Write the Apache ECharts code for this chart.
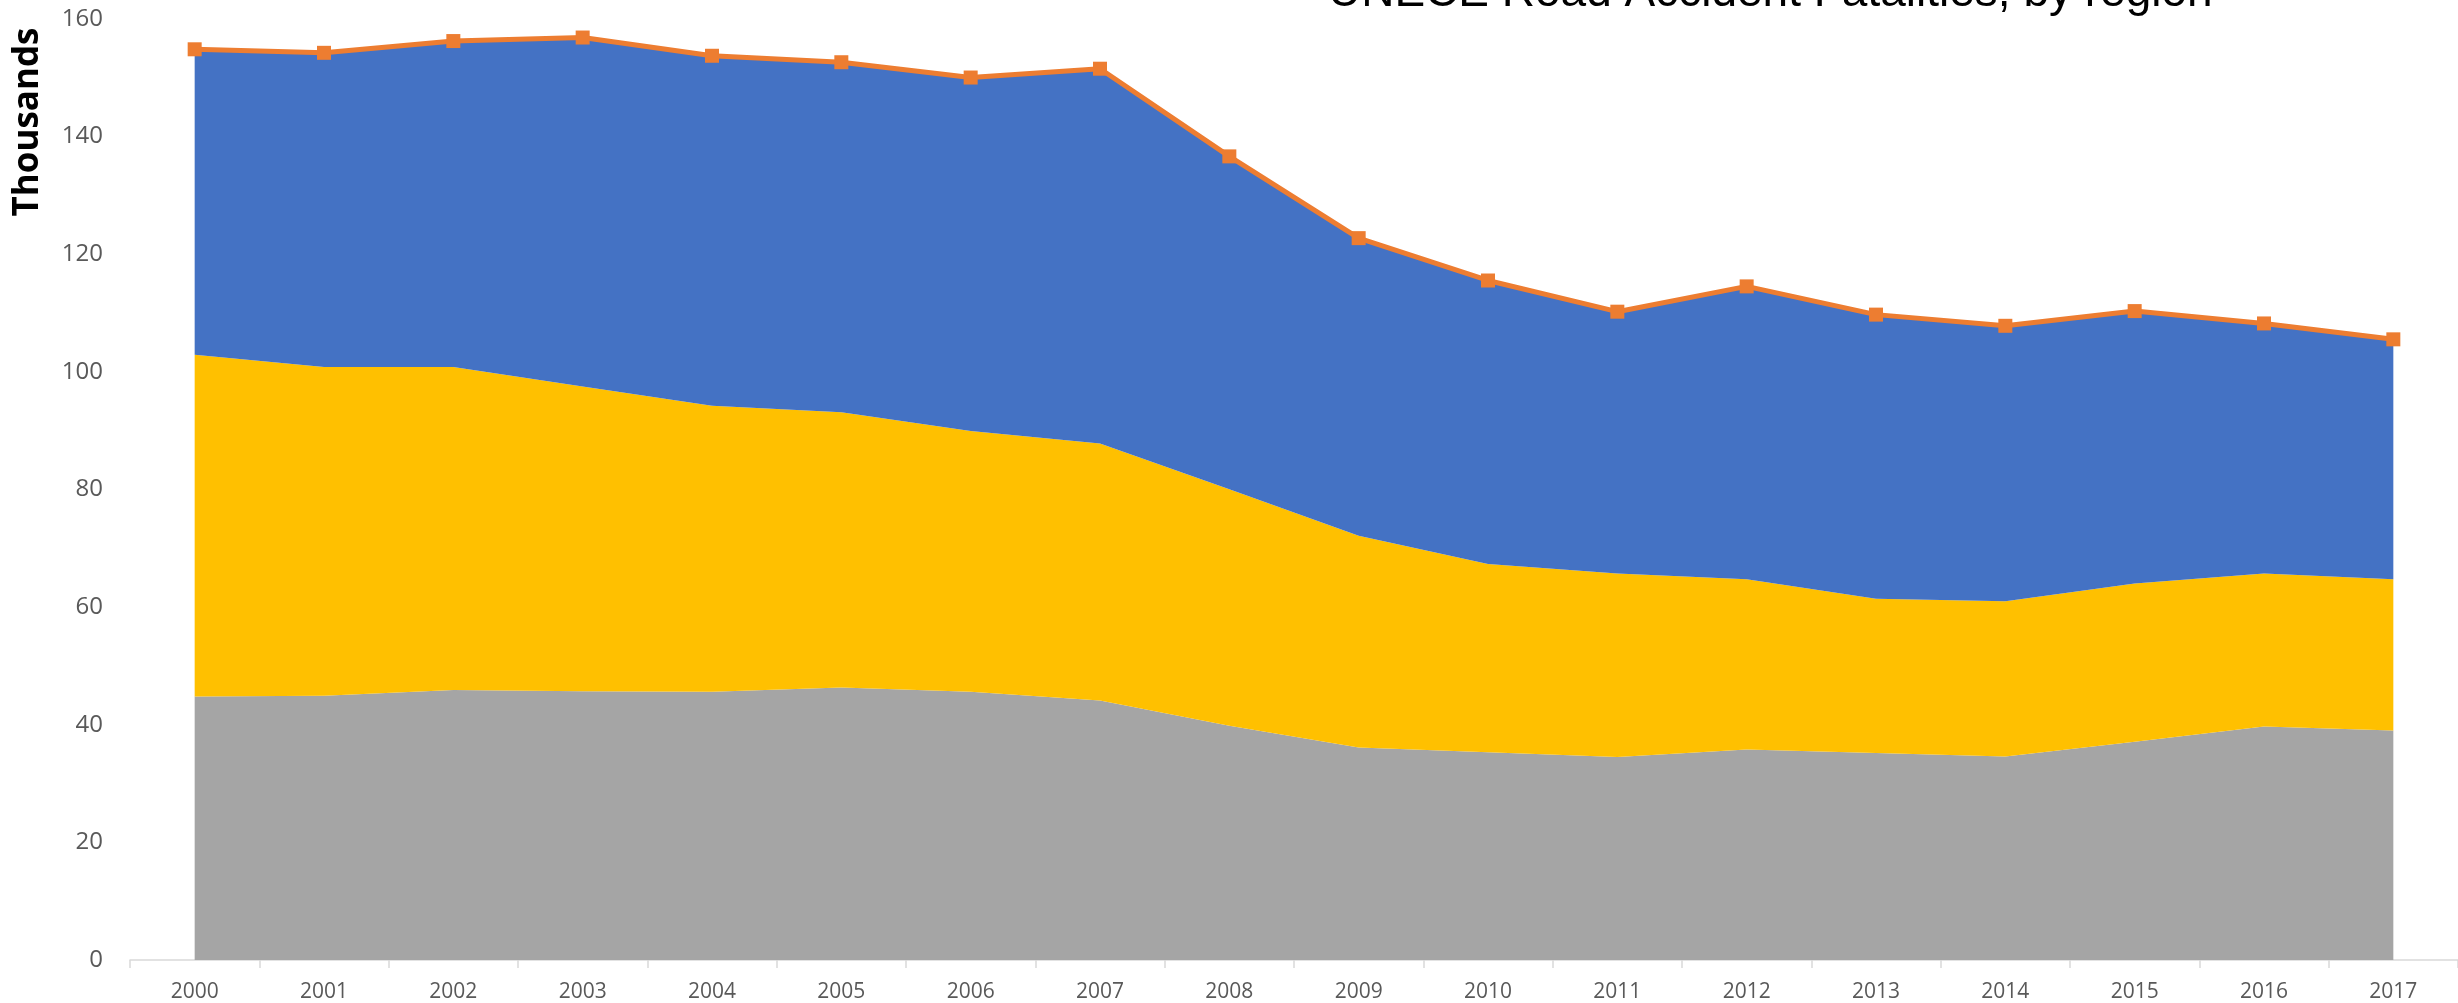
<!DOCTYPE html>
<html>
<head>
<meta charset="utf-8">
<script src="https://cdn.jsdelivr.net/npm/echarts@6/dist/echarts.min.js"></script>
<style>
html,body{margin:0;padding:0;background:#fff;}
#chart{width:2458px;height:1003px;}
</style>
</head>
<body>
<div id="chart"></div>
<script>
var years = ['2000','2001','2002','2003','2004','2005','2006','2007','2008','2009','2010','2011','2012','2013','2014','2015','2016','2017'];
var region1 = [44.8,44.9,45.9,45.7,45.6,46.3,45.6,44.1,39.8,36.1,35.3,34.5,35.8,35.2,34.6,37.1,39.7,39.0];
var region2 = [58.1,55.9,54.9,51.8,48.6,46.8,44.3,43.7,40.2,36.0,32.0,31.2,28.9,26.2,26.4,26.9,26.0,25.7];
var region3 = [51.9,53.4,55.4,59.3,59.5,59.5,60.1,63.7,56.6,50.6,48.2,44.5,49.8,48.3,46.8,46.3,42.5,40.8];
var total   = [154.8,154.2,156.2,156.8,153.7,152.6,150.0,151.5,136.6,122.7,115.5,110.2,114.5,109.7,107.8,110.3,108.2,105.5];
var titleText = 'UNECE Road Accident Fatalities, by region';
var yName = 'Thousands';

var chart = echarts.init(document.getElementById('chart'), null, {renderer:'canvas'});
function area(name, data, color){
  return {name:name, type:'line', stack:'all', data:data, symbol:'none',
    lineStyle:{width:0}, areaStyle:{color:color, opacity:1}, itemStyle:{color:color}, z:2};
}
chart.setOption({
  animation:false,
  backgroundColor:'#fff',
  grid:{left:130, right:-10, top:18.7, bottom:40.3, containLabel:false},
  xAxis:{type:'category', data:years, boundaryGap:true,
    axisLine:{show:true, lineStyle:{color:'#d9d9d9', width:1.5}},
    axisTick:{show:true, alignWithLabel:false, length:8, lineStyle:{color:'#d9d9d9', width:1.5}},
    axisLabel:{color:'#595959', fontFamily:'Open Sans', fontSize:21, margin:22},
    splitLine:{show:false}},
  yAxis:{type:'value', min:0, max:160, interval:20,
    axisLine:{show:false}, axisTick:{show:false}, splitLine:{show:false},
    axisLabel:{color:'#595959', fontFamily:'Open Sans', fontSize:24, margin:27}},
  graphic:[
    {type:'text', x:1328, y:-7, style:{text:titleText, font:'46px "Liberation Sans"', fill:'#000', align:'left', verticalAlign:'middle'}},
    {type:'text', x:28, y:122, rotation:Math.PI/2, style:{text:yName, font:'bold 35px "Open Sans"', fill:'#000', align:'center', verticalAlign:'middle'}}
  ],
  series:[
    area('Region 1', region1, '#A5A5A5'),
    area('Region 2', region2, '#FFC000'),
    area('Region 3', region3, '#4472C4'),
    {name:'Total', type:'line', data:total, symbol:'rect', symbolSize:14,
      lineStyle:{color:'#ED7D31', width:5}, itemStyle:{color:'#ED7D31'}, z:5}
  ]
});
</script>
</body>
</html>
